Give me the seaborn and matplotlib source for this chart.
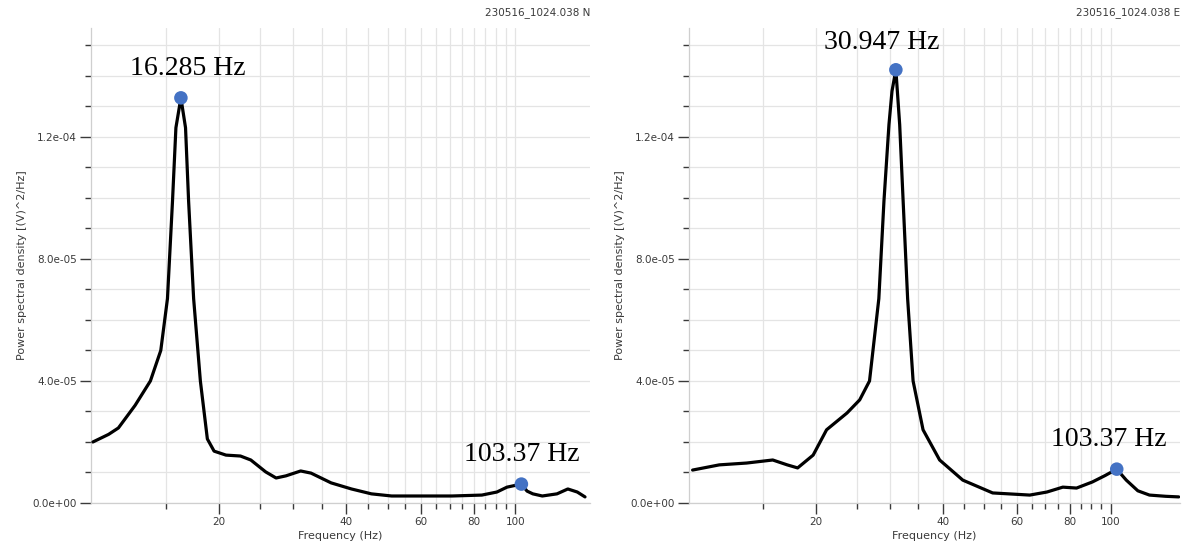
import matplotlib
matplotlib.use("Agg")
import matplotlib.pyplot as plt
from matplotlib.ticker import FixedLocator, FuncFormatter, NullFormatter
import pandas as pd
import seaborn as sns

# Power spectral density, N component
freq_n = [10.1, 11.0, 11.6, 12.7, 13.8, 14.6, 15.14, 15.56, 15.85, 16.285, 16.7,
          16.98, 17.45, 18.1, 18.8, 19.5, 20.8, 22.5, 23.8, 25.8, 27.3, 28.8,
          31.2, 33.0, 36.8, 41.1, 45.8, 51.1, 60.2, 70.9, 83.4, 90.5, 95.6,
          103.37, 106.6, 110.0, 115.8, 125.4, 133.0, 140.0, 146.0]
psd_n = [2.0e-5, 2.25e-5, 2.46e-5, 3.2e-5, 4.0e-5, 5.0e-5, 6.7e-5, 9.9e-5,
         12.3e-5, 13.28e-5, 12.3e-5, 9.9e-5, 6.7e-5, 4.0e-5, 2.1e-5, 1.7e-5,
         1.57e-5, 1.54e-5, 1.41e-5, 1.02e-5, 0.82e-5, 0.89e-5, 1.05e-5,
         0.98e-5, 0.66e-5, 0.46e-5, 0.30e-5, 0.23e-5, 0.23e-5, 0.23e-5,
         0.26e-5, 0.36e-5, 0.52e-5, 0.62e-5, 0.39e-5, 0.30e-5, 0.23e-5,
         0.30e-5, 0.46e-5, 0.36e-5, 0.20e-5]

# Power spectral density, E component
freq_e = [10.2, 11.8, 13.7, 15.8, 17.1, 18.1, 19.7, 21.2, 23.7, 25.4, 26.8,
          28.2, 29.0, 29.8, 30.3, 30.947, 31.6, 32.2, 33.0, 34.0, 35.9, 39.3,
          44.6, 52.5, 64.3, 70.6, 77.0, 83.0, 90.5, 97.0, 103.37, 108.9,
          116.0, 123.6, 135.0, 145.0]
psd_e = [1.08e-5, 1.25e-5, 1.31e-5, 1.41e-5, 1.25e-5, 1.15e-5, 1.57e-5,
         2.4e-5, 2.95e-5, 3.38e-5, 4.0e-5, 6.7e-5, 9.9e-5, 12.4e-5, 13.5e-5,
         14.2e-5, 12.4e-5, 9.9e-5, 6.7e-5, 4.0e-5, 2.4e-5, 1.41e-5, 0.75e-5,
         0.33e-5, 0.26e-5, 0.36e-5, 0.52e-5, 0.49e-5, 0.69e-5, 0.90e-5,
         1.11e-5, 0.75e-5, 0.40e-5, 0.26e-5, 0.22e-5, 0.20e-5]

# Picked peaks
peak_freq_n = [16.285, 103.37]
peak_psd_n = [13.28e-5, 0.62e-5]
peak_text_n = ["16.285 Hz", "103.37 Hz"]
peak_freq_e = [30.947, 103.37]
peak_psd_e = [14.2e-5, 1.11e-5]
peak_text_e = ["30.947 Hz", "103.37 Hz"]

titles = ["230516_1024.038 N", "230516_1024.038 E"]
x_major = [20, 40, 60, 80, 100]
x_minor = [15, 25, 30, 35, 45, 50, 55, 65, 70, 75, 85, 90, 95]
y_major = [0.0, 4e-5, 8e-5, 1.2e-4]
y_minor = [1e-5, 2e-5, 3e-5, 5e-5, 6e-5, 7e-5, 9e-5, 1e-4, 1.1e-4,
           1.3e-4, 1.4e-4, 1.5e-4]

sns.set_style("white")
plt.rcParams["font.family"] = ["DejaVu Sans"]

fig = plt.figure(figsize=(11.84, 5.51), dpi=100)
ax_n = fig.add_axes([0.0769, 0.0871, 0.4214, 0.8621])
ax_e = fig.add_axes([0.5819, 0.0871, 0.4147, 0.8621])

panels = [
    (ax_n, freq_n, psd_n, peak_freq_n, peak_psd_n, peak_text_n, titles[0], 150,
     [(5, 21), (0, 21)]),
    (ax_e, freq_e, psd_e, peak_freq_e, peak_psd_e, peak_text_e, titles[1], 146,
     [(-10, 20), (-6, 21)]),
]

grid_c = "#e4e4e4"
tick_c = "#3a3a3a"

for ax, fx, py, pk_f, pk_p, pk_t, title, xmax, offsets in panels:
    df = pd.DataFrame({"freq": fx, "psd": py})
    sns.lineplot(data=df, x="freq", y="psd", ax=ax, color="black",
                 linewidth=2.3, sort=False, zorder=3)
    pk = pd.DataFrame({"freq": pk_f, "psd": pk_p})
    sns.scatterplot(data=pk, x="freq", y="psd", ax=ax, color="#4472C4",
                    s=95, edgecolor="none", zorder=4)
    for f, p, t, off in zip(pk_f, pk_p, pk_t, offsets):
        ax.annotate(t, (f, p), xytext=off, textcoords="offset points",
                    ha="center", va="center", fontsize=20,
                    family="Liberation Serif", color="black", zorder=5)

    ax.set_xscale("log")
    ax.set_xlim(10, xmax)
    ax.set_ylim(0, 1.557e-4)

    ax.xaxis.set_major_locator(FixedLocator(x_major))
    ax.xaxis.set_minor_locator(FixedLocator(x_minor))
    ax.xaxis.set_major_formatter(FuncFormatter(lambda v, _: f"{v:g}"))
    ax.xaxis.set_minor_formatter(NullFormatter())
    ax.yaxis.set_major_locator(FixedLocator(y_major))
    ax.yaxis.set_minor_locator(FixedLocator(y_minor))
    ax.yaxis.set_major_formatter(FuncFormatter(lambda v, _: f"{v:.1e}"))

    ax.grid(True, which="both", color=grid_c, linewidth=0.9, zorder=0)
    ax.set_axisbelow(True)

    ax.tick_params(axis="both", which="major", direction="out", length=8,
                   width=1.0, color=tick_c, labelsize=7.5, labelcolor=tick_c,
                   pad=2)
    ax.tick_params(axis="both", which="minor", direction="out", length=4,
                   width=1.0, color=tick_c)
    ax.tick_params(left=True, bottom=True, which="both")

    for side in ("top", "right"):
        ax.spines[side].set_visible(False)
    for side in ("left", "bottom"):
        ax.spines[side].set_color("#cfcfcf")
        ax.spines[side].set_linewidth(0.9)

    ax.set_xlabel("Frequency (Hz)", fontsize=8, color=tick_c, labelpad=3)
    ax.set_ylabel("Power spectral density [(V)^2/Hz]", fontsize=8,
                  color=tick_c, labelpad=4)
    ax.set_title(title, loc="right", fontsize=7.5, color=tick_c, pad=9)

fig.savefig("out.png", dpi=100)
